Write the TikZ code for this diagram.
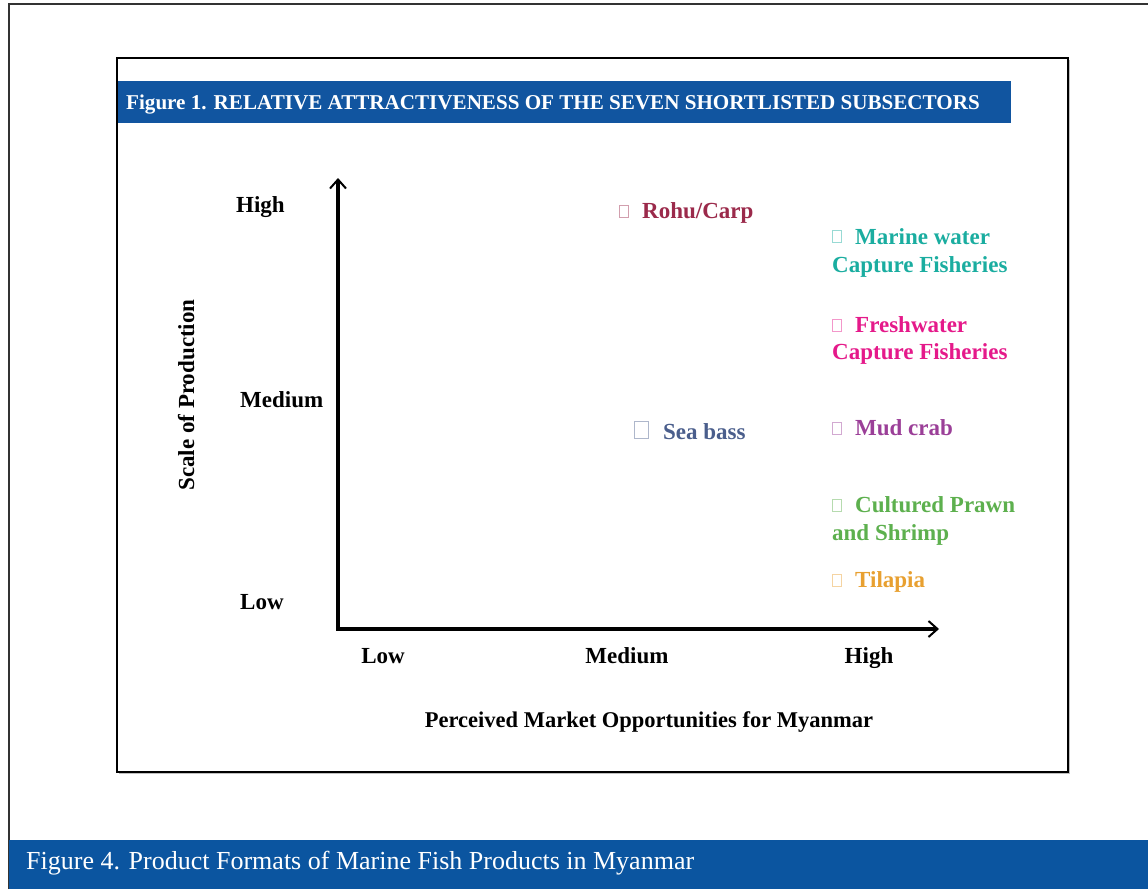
\documentclass[tikz,border=0pt]{standalone}
\usepackage{fontspec}
\setmainfont{Liberation Serif}
\usetikzlibrary{arrows.meta}
\definecolor{hdrblue}{HTML}{1155A0}
\definecolor{barblue}{HTML}{0B55A0}
\definecolor{crohu}{HTML}{9B2A4B}
\definecolor{cmarine}{HTML}{1AADA0}
\definecolor{cfresh}{HTML}{E5198A}
\definecolor{cseabass}{HTML}{4A5E8C}
\definecolor{cmud}{HTML}{9B3F98}
\definecolor{cprawn}{HTML}{5DB04E}
\definecolor{ctilapia}{HTML}{E8A030}
\tikzset{
  lbl/.style={font=\fontsize{23}{27}\selectfont\bfseries, inner sep=0pt, anchor=base west},
  axlbl/.style={font=\fontsize{23}{27}\selectfont\bfseries, inner sep=0pt, anchor=base},
  chk/.style={draw=#1!45, line width=0.8pt, inner sep=0pt, minimum width=9pt, minimum height=12pt, anchor=north west},
  axisline/.style={line width=3.2pt, -{Straight Barb[length=9pt,width=16pt,line width=2pt]}},
}
\begin{document}
\begin{tikzpicture}[x=1pt,y=-1pt]
\useasboundingbox (0,0) rectangle (1148,889);
% outer frame
\draw[line width=1.5pt, black!80] (9,889) -- (9,4) -- (1148,4);
% bottom bar
\fill[barblue] (9,840) rectangle (1148,889);
\node[font=\fontsize{26}{30}\selectfont, text=white, inner sep=0pt, anchor=base west] (bottomtitle) at (26,869) {Figure 4. Product Formats of Marine Fish Products in Myanmar};
% inner box
\fill[black!25] (119,60) rectangle (1070,774);
\draw[line width=2pt, fill=white] (117,58) rectangle (1068,772);
% header bar
\fill[hdrblue] (118,81) rectangle (1011,123);
\node[font=\fontsize{21.1}{25}\selectfont\bfseries, text=white, inner sep=0pt, anchor=base west] (header) at (126,109) {Figure 1. RELATIVE ATTRACTIVENESS OF THE SEVEN SHORTLISTED SUBSECTORS};
% axes
\coordinate (origin) at (338,629);
\coordinate (ytop) at (338,178);
\coordinate (xend) at (939,629);
\draw[axisline] ([yshift=-1.6pt]origin) -- (ytop);
\draw[axisline] ([xshift=-1.6pt]origin) -- (xend);
% axis labels
\node[lbl] (yhigh) at (236,212) {High};
\node[lbl] (ymed) at (240,407) {Medium};
\node[lbl] (ylow) at (240,609) {Low};
\node[axlbl, rotate=90] (ytitle) at (194,395) {Scale of Production};
\node[axlbl] (xlow) at (383,663) {Low};
\node[axlbl] (xmed) at (627,663) {Medium};
\node[axlbl, font=\fontsize{22.5}{27}\selectfont\bfseries] (xtitle) at (649,727) {Perceived Market Opportunities for Myanmar};
\node[axlbl] (xhigh) at (869,663) {High};
% data labels
\node[chk=crohu] (brohu) at (619,205) {};
\node[lbl, text=crohu] (rohu) at (642,218) {Rohu/Carp};
\node[chk=cmarine] (bmarine) at (832,230) {};
\node[lbl, text=cmarine] (marine1) at (855,244) {Marine water};
\node[lbl, text=cmarine] (marine2) at (832,272) {Capture Fisheries};
\node[chk=cfresh] (bfresh) at (832,319) {};
\node[lbl, text=cfresh] (fresh1) at (855,332) {Freshwater};
\node[lbl, text=cfresh] (fresh2) at (832,359) {Capture Fisheries};
\node[chk=cseabass, minimum width=14pt, minimum height=17pt] (bseabass) at (634,421) {};
\node[lbl, text=cseabass] (seabass) at (663,439) {Sea bass};
\node[chk=cmud] (bmud) at (832,422) {};
\node[lbl, text=cmud] (mud) at (855,435) {Mud crab};
\node[chk=cprawn] (bprawn) at (832,499) {};
\node[lbl, text=cprawn] (prawn1) at (855,512) {Cultured Prawn};
\node[lbl, text=cprawn] (prawn2) at (832,540) {and Shrimp};
\node[chk=ctilapia] (btilapia) at (832,574) {};
\node[lbl, text=ctilapia] (tilapia) at (855,587) {Tilapia};
\end{tikzpicture}
\end{document}
